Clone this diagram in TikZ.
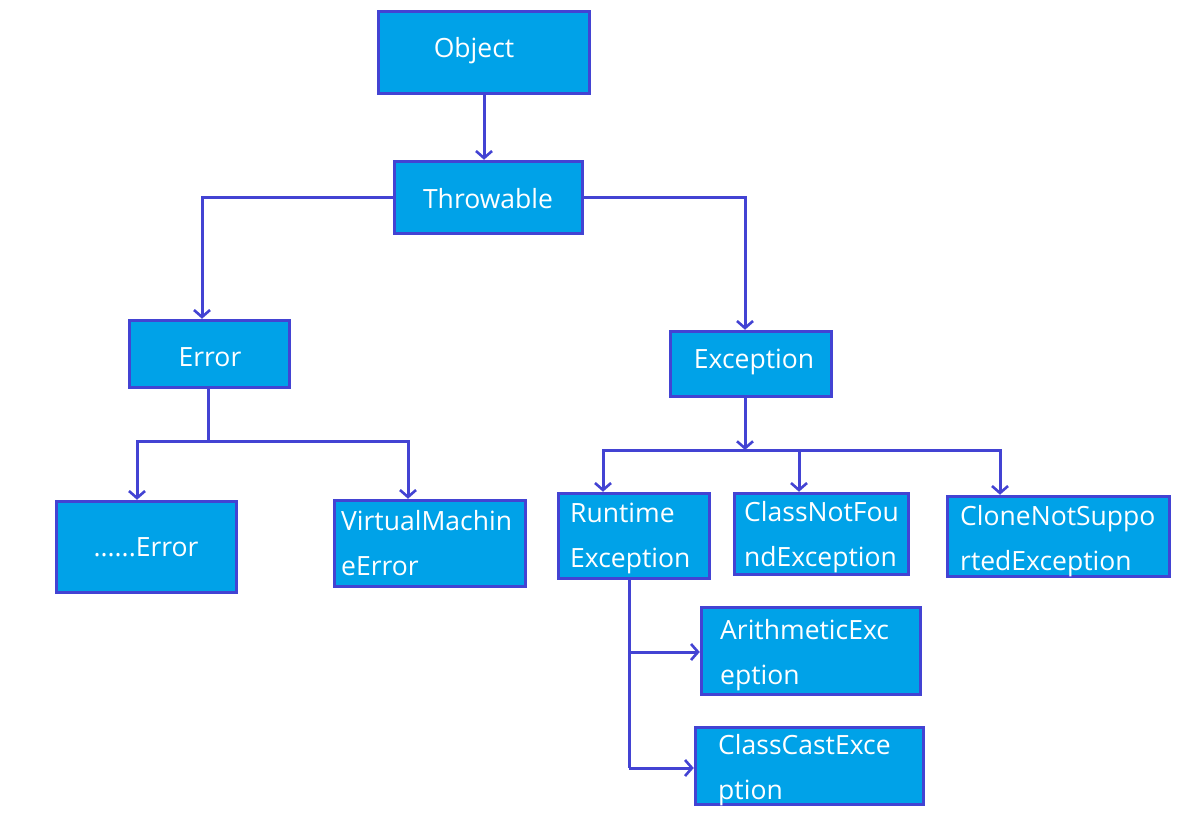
\documentclass[tikz,border=0pt]{standalone}
\usepackage{fontspec}
\setmainfont{Open Sans}
\usetikzlibrary{arrows.meta}
\definecolor{fillc}{HTML}{00A2E8}
\definecolor{bdr}{HTML}{4343D3}
\tikzset{
  box/.style={draw=bdr, fill=fillc, line width=3.5pt, inner sep=0pt},
  txt/.style={text=white, font=\fontsize{26.5}{45}\selectfont, align=left, inner sep=0pt},
  conn/.style={draw=bdr, line width=3pt},
  arr/.style={conn, -{Straight Barb[length=7pt,width=16pt,line width=2.6pt]}}
}
\begin{document}
\begin{tikzpicture}[x=1pt,y=-1pt]
\useasboundingbox (0,0) rectangle (1189,816);
% boxes: center, width, height
\node[box, minimum width=211pt, minimum height=82pt] (obj) at (484,52.5) {};
\node[box, minimum width=188pt, minimum height=72pt] (thr) at (488.5,197.5) {};
\node[box, minimum width=160pt, minimum height=67pt] (err) at (209.5,354) {};
\node[box, minimum width=161pt, minimum height=65pt] (exc) at (751,364) {};
\node[box, minimum width=180pt, minimum height=91pt] (derr) at (146.5,547) {};
\node[box, minimum width=191pt, minimum height=86pt] (vme) at (430,543.5) {};
\node[box, minimum width=151pt, minimum height=85pt] (rte) at (634,536) {};
\node[box, minimum width=174pt, minimum height=81pt] (cnf) at (821.5,534) {};
\node[box, minimum width=222pt, minimum height=80pt] (cns) at (1058.5,536.5) {};
\node[box, minimum width=219pt, minimum height=87pt] (ari) at (811,651) {};
\node[box, minimum width=228pt, minimum height=77pt] (cce) at (809.5,766) {};
% texts
\node[txt] (tobj) at (474,51) {Object};
\node[txt] (tthr) at (488,199) {Throwable};
\node[txt] (terr) at (210,357) {Error};
\node[txt] (texc) at (754,362) {Exception};
\node[txt] (tderr) at (146,547) {......Error};
\node[txt, anchor=north west] (tvme) at (341,510) {VirtualMachin\\eError};
\node[txt, anchor=north west] (trte) at (570,503) {Runtime\\Exception};
\node[txt, anchor=north west] (tcnf) at (744,501) {ClassNotFou\\ndException};
\node[txt, anchor=north west] (tcns) at (960,505) {CloneNotSuppo\\rtedException};
\node[txt, anchor=north west] (tari) at (720,619) {ArithmeticExc\\eption};
\node[txt, anchor=north west] (tcce) at (718,734) {ClassCastExce\\ption};
% junction coordinates
\coordinate (e1) at (208,441);
\coordinate (x1) at (745,450);
\coordinate (j1) at (629,652);
\coordinate (j2) at (629,768);
% connectors
\draw[arr] (obj.south -| 484,0) -- (thr.north -| 484,0);
\draw[arr] (thr.west) -| (err.north -| 202,0);
\draw[arr] (thr.east) -| (exc.north -| 745,0);
\draw[conn] (err.south -| e1) -- (e1);
\draw[arr] (e1) -| (derr.north -| 137,0);
\draw[arr] (e1) -| (vme.north -| 408,0);
\draw[arr] (exc.south -| x1) -- (x1);
\draw[arr] (x1) -| (rte.north -| 603,0);
\draw[arr] (x1) -| (cnf.north -| 799,0);
\draw[arr] (x1) -| (cns.north -| 1000,0);
\draw[conn] (rte.south -| j1) -- (j2);
\draw[arr] (j1) -- (j1 -| ari.west);
\draw[arr] (j2) -- (j2 -| cce.west);
\end{tikzpicture}
\end{document}
